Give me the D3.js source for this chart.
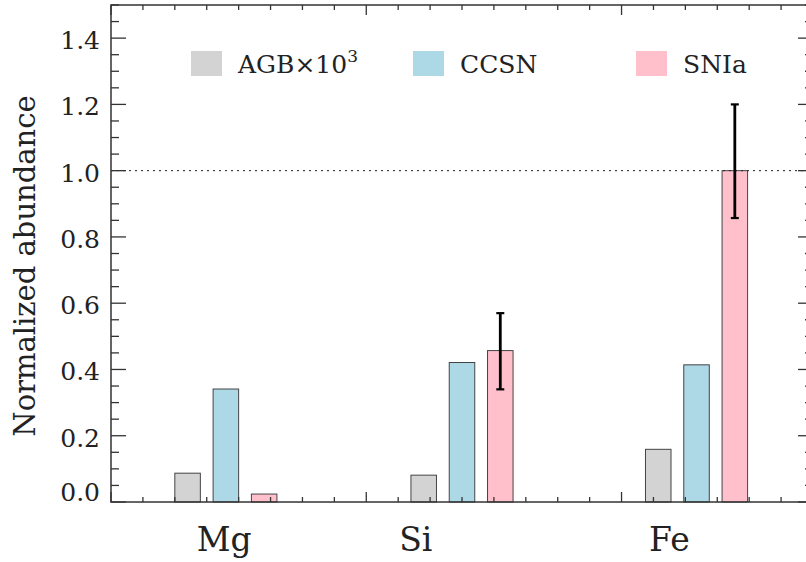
<!DOCTYPE html>
<html>
<head>
<meta charset="utf-8">
<script src="https://cdn.jsdelivr.net/npm/d3@7"></script>
<style>
  html, body { margin: 0; padding: 0; background: #fff; }
  svg { display: block; }
  text { font-family: 'DejaVu Serif', serif; fill: #222; }
</style>
</head>
<body>
<svg id="chart" width="806" height="562"></svg>
<script>
const elements = ['Mg', 'Si', 'Fe'];
const groupPos = [3.6, 11.0, 18.35];
const labelPos = [3.55, 9.55, 17.5];

const sources = ['AGB', 'CCSN', 'SNIa'];
const agb = [0.087, 0.081, 0.159];
const ccsn = [0.341, 0.421, 0.414];
const snia = [0.024, 0.457, 1.0];
const sniaLow = [null, 0.340, 0.857];
const sniaHigh = [null, 0.570, 1.200];

const yTicks = [0, 0.2, 0.4, 0.6, 0.8, 1.0, 1.2, 1.4];
const yTickLabels = ['0.0', '0.2', '0.4', '0.6', '0.8', '1.0', '1.2', '1.4'];

const colors = { AGB: '#d3d3d3', CCSN: '#add8e6', SNIa: '#ffc0cb' };

const plotL = 111, plotR = 813, plotT = 5, plotB = 502;
const x = d3.scaleLinear().domain([0, 22]).range([plotL, plotR]);
const y = d3.scaleLinear().domain([0, 1.5]).range([plotB, plotT]);

const svg = d3.select('#chart');
const axisColor = '#333';

// bars
const barW = 0.8, step = 1.2;
const series = [agb, ccsn, snia];
const bars = [];
series.forEach((vals, s) => vals.forEach((v, i) => {
  bars.push({ src: sources[s], x: groupPos[i] + (s - 1) * step, v });
}));

svg.append('g')
  .selectAll('rect')
  .data(bars)
  .join('rect')
  .attr('x', d => x(d.x - barW / 2))
  .attr('width', x(barW) - x(0))
  .attr('y', d => y(d.v))
  .attr('height', d => y(0) - y(d.v))
  .attr('fill', d => colors[d.src])
  .attr('stroke', '#444')
  .attr('stroke-width', 1);

// dotted reference line at 1
svg.append('line')
  .attr('x1', plotL).attr('x2', plotR)
  .attr('y1', y(1)).attr('y2', y(1))
  .attr('stroke', '#222')
  .attr('stroke-width', 1)
  .attr('stroke-dasharray', '2,4');

// error bars on SNIa
const errs = snia.map((v, i) => ({ x: groupPos[i] + step, lo: sniaLow[i], hi: sniaHigh[i] }))
  .filter(d => d.lo !== null);
const eg = svg.append('g').attr('stroke', '#000').attr('stroke-width', 2.8);
eg.selectAll('line.v').data(errs).join('line')
  .attr('class', 'v')
  .attr('x1', d => x(d.x)).attr('x2', d => x(d.x))
  .attr('y1', d => y(d.lo)).attr('y2', d => y(d.hi));
eg.selectAll('line.c').data(errs.flatMap(d => [[d.x, d.lo], [d.x, d.hi]])).join('line')
  .attr('class', 'c')
  .attr('x1', d => x(d[0]) - 4).attr('x2', d => x(d[0]) + 4)
  .attr('y1', d => y(d[1])).attr('y2', d => y(d[1]))
  .attr('stroke-width', 2.2);

// frame
svg.append('rect')
  .attr('x', plotL).attr('y', plotT)
  .attr('width', plotR - plotL).attr('height', plotB - plotT)
  .attr('fill', 'none')
  .attr('stroke', axisColor)
  .attr('stroke-width', 1.5);

// y ticks (left and right)
const yMinor = d3.range(0, 1.5001, 0.05);
const yMajorLen = 15, yMinorLen = 8;
const ty = svg.append('g').attr('stroke', axisColor).attr('stroke-width', 1.3);
yMinor.forEach(v => {
  const major = Math.abs(v * 5 - Math.round(v * 5)) < 1e-6;
  const len = major ? yMajorLen : yMinorLen;
  ty.append('line').attr('x1', plotL).attr('x2', plotL + len).attr('y1', y(v)).attr('y2', y(v));
  ty.append('line').attr('x1', plotR).attr('x2', plotR - len).attr('y1', y(v)).attr('y2', y(v));
});

svg.append('g')
  .selectAll('text')
  .data(yTicks)
  .join('text')
  .attr('x', 100)
  .attr('y', d => d === 0 ? y(d) - 1 : y(d) + 11)
  .attr('text-anchor', 'end')
  .attr('font-size', 25)
  .text((d, i) => yTickLabels[i]);

// x ticks (bottom and top)
const tx = svg.append('g').attr('stroke', axisColor).attr('stroke-width', 1.3);
d3.range(0, 23).forEach(v => {
  const len = v % 8 === 0 ? 10 : 5;
  tx.append('line').attr('x1', x(v)).attr('x2', x(v)).attr('y1', plotB).attr('y2', plotB - len);
  tx.append('line').attr('x1', x(v)).attr('x2', x(v)).attr('y1', plotT).attr('y2', plotT + len);
});

svg.append('g')
  .selectAll('text')
  .data(elements)
  .join('text')
  .attr('x', (d, i) => x(labelPos[i]))
  .attr('y', 551)
  .attr('text-anchor', 'middle')
  .attr('font-size', 33)
  .text(d => d);

// y title
svg.append('text')
  .attr('transform', 'translate(35,266) rotate(-90)')
  .attr('text-anchor', 'middle')
  .attr('font-size', 29)
  .text('Normalized abundance');

// legend
const legendX = [191, 413, 636];
const legendLabels = ['AGB×10', 'CCSN', 'SNIa'];
const lg = svg.append('g');
sources.forEach((s, i) => {
  lg.append('rect')
    .attr('x', legendX[i]).attr('y', 51)
    .attr('width', 31).attr('height', 25)
    .attr('fill', colors[s]);
  const t = lg.append('text')
    .attr('x', legendX[i] + 47).attr('y', 73)
    .attr('font-size', 25)
    .text(legendLabels[i]);
  if (s === 'AGB') {
    t.append('tspan').attr('dy', -11).attr('font-size', 17).text('3');
  }
});
</script>
</body>
</html>
